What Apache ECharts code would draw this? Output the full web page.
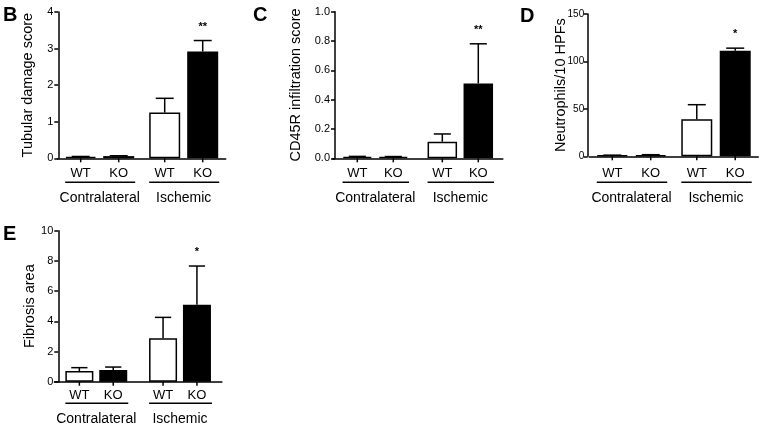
<!DOCTYPE html>
<html><head><meta charset="utf-8">
<script src="https://cdn.jsdelivr.net/npm/echarts@6/dist/echarts.min.js"></script>
<style>html,body{margin:0;padding:0;background:#fff}#c{width:760px;height:426px}</style>
</head><body><div id="c"></div>
<script>
// ---------- DATA ----------
const groups = ['Contralateral', 'Ischemic'];
const genotypes = ['WT', 'KO'];

// B: Tubular damage score
const tubularWT = [0.04, 1.25];
const tubularWTsem = [0.01, 0.39];
const tubularKO = [0.06, 2.92];
const tubularKOsem = [0.01, 0.30];
const tubularKOsig = ['', '**'];
const tubularTicks = [0, 1, 2, 3, 4];

// C: CD45R infiltration score
const cd45WT = [0.010, 0.113];
const cd45WTsem = [0.003, 0.053];
const cd45KO = [0.010, 0.511];
const cd45KOsem = [0.002, 0.270];
const cd45KOsig = ['', '**'];
const cd45Ticks = [0.0, 0.2, 0.4, 0.6, 0.8, 1.0];

// D: Neutrophils/10 HPFs
const neutWT = [0.9, 39];
const neutWTsem = [0.3, 15.4];
const neutKO = [1.3, 111.3];
const neutKOsem = [0.4, 2.7];
const neutKOsig = ['', '*'];
const neutTicks = [0, 50, 100, 150];

// E: Fibrosis area
const fibWT = [0.71, 2.87];
const fibWTsem = [0.22, 1.39];
const fibKO = [0.77, 5.10];
const fibKOsem = [0.20, 2.56];
const fibKOsig = ['', '*'];
const fibTicks = [0, 2, 4, 6, 8, 10];

// ---------- LAYOUT / STYLE ----------
const FONT = "'Liberation Sans', Arial, Helvetica, sans-serif";
const panels = [
  {letter: 'B', name: 'Tubular damage score', wt: tubularWT, wtSem: tubularWTsem, ko: tubularKO, koSem: tubularKOsem, sig: tubularKOsig, ticks: tubularTicks, dec: 0,
   L: {gridLeft: 57.7, gridWidth: 168, top: 12, height: 146.3, axisX: 58.3, bw: 31, gap: 0.226, nameGap: 23, tickFont: 11, tickMargin: 5, lx: 3, ly: 5, labelY: 172.3, lineY: 182.3, groupY: 197}},
  {letter: 'C', name: 'CD45R infiltration score', wt: cd45WT, wtSem: cd45WTsem, ko: cd45KO, koSem: cd45KOsem, sig: cd45KOsig, ticks: cd45Ticks, dec: 1,
   L: {gridLeft: 332.8, gridWidth: 170, top: 11.7, height: 146.6, axisX: 335, bw: 29.5, gap: 0.22, nameGap: 32, tickFont: 11, tickMargin: 5, lx: 253, ly: 5, labelY: 172.3, lineY: 182.3, groupY: 197}},
  {letter: 'D', name: 'Neutrophils/10 HPFs', wt: neutWT, wtSem: neutWTsem, ko: neutKO, koSem: neutKOsem, sig: neutKOsig, ticks: neutTicks, dec: 0,
   L: {gridLeft: 589.25, gridWidth: 169, top: 14, height: 142.3, axisX: 587.7, bw: 31, gap: 0.24, nameGap: 19, tickFont: 10, tickMargin: 3.5, lx: 520, ly: 6, labelY: 172.3, lineY: 182.3, groupY: 197}},
  {letter: 'E', name: 'Fibrosis area', wt: fibWT, wtSem: fibWTsem, ko: fibKO, koSem: fibKOsem, sig: fibKOsig, ticks: fibTicks, dec: 0,
   L: {gridLeft: 54.45, gridWidth: 167.4, top: 230.7, height: 151, axisX: 58.3, bw: 28, gap: 0.21, nameGap: 21, tickFont: 11, tickMargin: 5, lx: 3, ly: 224, labelY: 394.3, lineY: 403.3, groupY: 418}}
];

const option = {animation: false, grid: [], xAxis: [], yAxis: [], series: [], graphic: []};

panels.forEach((p, i) => {
  const L = p.L;
  const baseY = L.top + L.height;
  option.grid.push({left: L.gridLeft, top: L.top, width: L.gridWidth, height: L.height, containLabel: false, outerBoundsMode: 'none'});
  option.xAxis.push({
    gridIndex: i, type: 'category', data: groups,
    axisLine: {lineStyle: {color: '#000', width: 1.5}},
    axisTick: {show: false}, splitLine: {show: false},
    axisLabel: {interval: 0, hideOverlap: false, margin: L.groupY - 6 - baseY, fontSize: 14, color: '#000', fontFamily: FONT}
  });
  const t = p.ticks;
  option.yAxis.push({
    gridIndex: i, type: 'value', min: t[0], max: t[t.length - 1], interval: t[1] - t[0],
    offset: L.gridLeft - L.axisX,
    axisLine: {show: true, lineStyle: {color: '#000', width: 1.5}},
    axisTick: {show: true, length: 4, lineStyle: {color: '#000', width: 1.5}},
    splitLine: {show: false},
    axisLabel: {margin: L.tickMargin, fontSize: L.tickFont, color: '#000', fontFamily: FONT, formatter: v => Number(v).toFixed(p.dec)},
    name: p.name, nameLocation: 'middle', nameGap: L.nameGap, nameMoveOverlap: false,
    nameTextStyle: {fontSize: 14.5, color: '#000', fontFamily: FONT}
  });
  const labelDist = L.labelY - 5.5 - baseY;
  [[p.wt, '#fff', genotypes[0]], [p.ko, '#000', genotypes[1]]].forEach(([vals, col, nm]) => {
    option.series.push({
      type: 'bar', name: nm, xAxisIndex: i, yAxisIndex: i, data: vals,
      barWidth: L.bw, barGap: (L.gap * 100) + '%', silent: true,
      itemStyle: {color: col, borderColor: '#000', borderWidth: 1.5},
      label: {show: true, position: 'bottom', distance: labelDist, formatter: nm, fontSize: 13, color: '#000', fontFamily: FONT}
    });
  });
  const errData = [];
  groups.forEach((g, gi) => {
    errData.push([gi, p.wt[gi], p.wt[gi] + p.wtSem[gi], 0]);
    errData.push([gi, p.ko[gi], p.ko[gi] + p.koSem[gi], 1]);
  });
  option.series.push({
    type: 'custom', xAxisIndex: i, yAxisIndex: i, data: errData, silent: true, z: 5,
    renderItem: (params, api) => {
      const gi = api.value(0), mean = api.value(1), top = api.value(2), s = api.value(3);
      const base = api.coord([gi, 0]);
      const pm = api.coord([gi, mean]);
      const pt = api.coord([gi, top]);
      const half = L.bw * (1 + L.gap) / 2;
      const x = base[0] + (s === 0 ? -half : half);
      const cap = L.bw * 0.58;
      const ls = {stroke: '#000', lineWidth: 1.5};
      const ch = [
        {type: 'line', shape: {x1: x, y1: pm[1], x2: x, y2: pt[1]}, style: ls},
        {type: 'line', shape: {x1: x - cap / 2, y1: pt[1], x2: x + cap / 2, y2: pt[1]}, style: ls},
        {type: 'line', shape: {x1: x, y1: base[1], x2: x, y2: base[1] + 4}, style: ls}
      ];
      if (s === 0) {
        const gl = base[0] - half - L.bw / 2, gr = base[0] + half + L.bw / 2;
        ch.push({type: 'line', shape: {x1: gl, y1: L.lineY, x2: gr + 1, y2: L.lineY}, style: ls});
      }
      if (s === 1 && p.sig[gi]) {
        ch.push({type: 'text', style: {text: p.sig[gi], x: x, y: pt[1] - 14, align: 'center', verticalAlign: 'middle',
          fontSize: 11, fontWeight: 'bold', fontFamily: FONT, fill: '#000'}});
      }
      return {type: 'group', children: ch};
    }
  });
  option.graphic.push({type: 'text', left: L.lx, top: L.ly, style: {text: p.letter, fontSize: 20, fontWeight: 'bold', fontFamily: FONT, fill: '#000'}});
});

const chart = echarts.init(document.getElementById('c'), null, {renderer: 'canvas'});
chart.setOption(option);
</script></body></html>
